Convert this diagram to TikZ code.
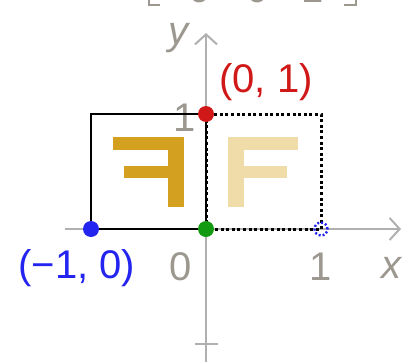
\documentclass[tikz,border=0pt]{standalone}
\usepackage{fontspec}
\setmainfont{Liberation Sans}
\usetikzlibrary{arrows.meta}
\definecolor{axisgray}{HTML}{B0B0B0}
\definecolor{labgray}{HTML}{9C9890}
\definecolor{ptred}{HTML}{D01818}
\definecolor{ptgreen}{HTML}{129A12}
\definecolor{ptblue}{HTML}{2424F0}
\definecolor{fdark}{HTML}{D4A020}
\definecolor{flight}{HTML}{F0DCA8}
\tikzset{
  axisline/.style={draw=axisgray, line width=2pt},
  lab/.style={font=\fontsize{40}{44}\selectfont, inner sep=0pt},
  dot/.style={circle, minimum size=16pt, inner sep=0pt},
}
\begin{document}
\begin{tikzpicture}[x=1pt,y=-1pt]
\useasboundingbox (0,0) rectangle (408,362);
\clip (0,0) rectangle (408,362);
% coordinates
\coordinate (O) at (206,229);
\coordinate (A) at (91,229);
\coordinate (B) at (91,114);
\coordinate (C) at (206,114);
\coordinate (D) at (321,114);
\coordinate (E) at (321,229);
\coordinate (xs) at (65,229);
\coordinate (xe) at (401,229);
\coordinate (ys) at (206,362);
\coordinate (ye) at (206,33);
\coordinate (tl) at (195,344);
\coordinate (tr) at (218,344);
% partial matrix row at top (cut off by the top edge, as in the reference)
\draw[labgray, line width=1.6pt] (149,-2) -- (149,5) -- (160,5);
\draw[labgray, line width=1.6pt] (356,-2) -- (356,5) -- (344,5);
\node[lab, text=labgray, anchor=base] (m1) at (200,2) {0};
\node[lab, text=labgray, anchor=base] (m2) at (258,2) {0};
\node[lab, text=labgray, anchor=base] (m3) at (313,2) {1};
% axes
\draw[axisline, -{Straight Barb[length=10pt,width=22pt,line width=2pt]}] (xs) -- (xe);
\draw[axisline, -{Straight Barb[length=10pt,width=22pt,line width=2pt]}] (ys) -- (ye);
\draw[axisline] (tl) -- (tr);
% tick labels
\node[lab, text=labgray] (l0) at (181,267) {0};
\node[lab, text=labgray] (l1) at (321,267) {1};
\node[lab, text=labgray] (ly1) at (185,118) {1};
\node[lab, text=labgray, font=\fontsize{40}{44}\selectfont\itshape] (lx) at (391,268) {x};
\node[lab, text=labgray, font=\fontsize{40}{44}\selectfont\itshape] (ly) at (178,38) {y};
% letters
\fill[fdark] (168,137) rectangle (184,207);
\fill[fdark] (113,137) rectangle (184,150);
\fill[fdark] (124,166) rectangle (184,178);
\fill[flight] (228,137) rectangle (244,207);
\fill[flight] (228,137) rectangle (298,150);
\fill[flight] (228,166) rectangle (287,178);
% squares
\draw[black, line width=3pt, dash pattern=on 3pt off 2.6pt] (O) -- (C) -- (D) -- (E) -- cycle;
\draw[black, line width=2.6pt] (A) -- (B) -- (C) -- (O) -- cycle;
% points
\node[dot, fill=ptred] (pr) at (C) {};
\node[dot, fill=ptgreen] (pg) at (O) {};
\node[dot, fill=ptblue] (pb) at (A) {};
\node[dot, draw=ptblue, line width=2.4pt, dash pattern=on 2pt off 2pt, minimum size=13pt] (pe) at (E) {};
% point labels
\node[lab, text=ptred] (tr1) at (266,82) {(0, 1)};
\node[lab, text=ptblue] (tb1) at (77,268) {(−1, 0)};
\end{tikzpicture}
\end{document}
